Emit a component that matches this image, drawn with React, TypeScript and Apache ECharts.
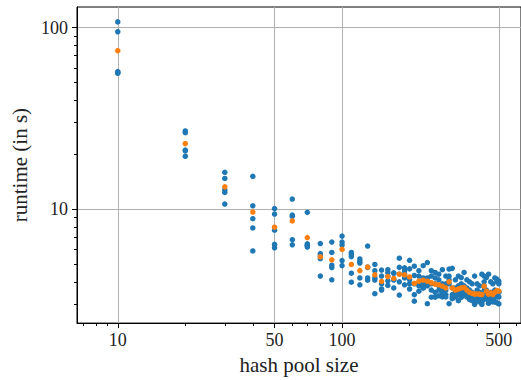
import React, { useEffect, useRef } from "react";
import * as echarts from "echarts";

const poolSizes = [10, 20, 30, 40, 50, 60, 70, 80, 90, 100, 110, 120, 130, 140, 150, 160, 170, 180, 190, 200, 210, 220, 230, 240, 250, 260, 270, 280, 290, 300, 310, 320, 330, 340, 350, 360, 370, 380, 390, 400, 410, 420, 430, 440, 450, 460, 470, 480, 490, 500];

const run1 = [107.4, 27.0, 16.0, 15.2, 10.1, 11.4, 9.63, 6.49, 6.61, 7.13, 5.8, 5.34, 6.29, 4.98, 4.64, 4.66, 4.48, 5.39, 4.77, 5.25, 4.87, 4.6, 4.9, 5.1, 4.6, 4.5, 4.4, 4.66, 4.3, 4.7, 4.74, 4.1, 4.3, 4.22, 4.5, 4.1, 4.0, 3.9, 4.3, 3.9, 3.8, 4.4, 4.3, 4.22, 4.4, 4.0, 3.9, 4.2, 4.13, 4.03];
const run2 = [94.8, 26.4, 14.8, 10.46, 9.43, 9.31, 6.47, 5.71, 5.8, 6.61, 5.65, 5.17, 4.81, 4.6, 4.3, 4.5, 4.45, 4.8, 4.6, 4.71, 4.33, 4.3, 4.2, 4.2, 4.3, 4.2, 4.1, 3.9, 3.9, 4.3, 3.7, 3.7, 3.8, 3.9, 3.8, 3.7, 3.6, 3.5, 3.4, 3.6, 3.5, 3.3, 4.0, 3.6, 3.4, 3.5, 3.5, 3.6, 4.0, 3.9];
const run3 = [57.3, 21.2, 12.8, 8.89, 7.69, 9.16, 6.35, 5.54, 4.93, 6.37, 5.5, 5.07, 4.8, 4.2, 3.9, 4.3, 4.1, 4.4, 4.4, 4.1, 3.9, 3.9, 3.9, 4.0, 3.9, 3.9, 3.8, 3.6, 3.6, 4.1, 3.4, 3.5, 3.6, 3.6, 3.5, 3.5, 3.4, 3.4, 3.3, 3.3, 3.4, 3.2, 3.8, 3.4, 3.2, 3.3, 3.3, 3.3, 3.4, 3.5];
const run4 = [56.6, 21.0, 12.4, 7.91, 6.42, 6.81, 6.34, 5.36, 4.79, 5.23, 4.46, 4.2, 4.2, 4.09, 3.65, 4.05, 4.1, 4.0, 4.2, 3.9, 3.4, 3.8, 3.7, 3.8, 3.6, 3.5, 3.6, 3.45, 3.4, 3.9, 3.3, 3.4, 3.4, 3.5, 3.4, 3.4, 3.3, 3.3, 3.1, 3.2, 3.3, 3.1, 3.6, 3.3, 3.05, 3.3, 3.2, 3.3, 3.3, 3.3];
const run5 = [56.0, 19.6, 10.7, 5.91, 6.15, 6.39, 6.21, 4.3, 4.1, 4.91, 3.98, 3.85, 4.08, 3.44, 3.6, 3.82, 3.7, 3.38, 3.85, 3.65, 3.13, 3.55, 3.7, 3.03, 3.29, 3.29, 3.35, 3.3, 3.3, 3.03, 3.23, 3.3, 3.15, 3.28, 3.4, 3.3, 3.2, 3.15, 3.0, 3.15, 3.1, 3.0, 3.2, 3.23, 3.05, 3.3, 3.1, 3.1, 3.07, 3.02];
const meanRuntime = [74.6, 23.0, 13.3, 9.67, 7.98, 8.64, 7.0, 5.48, 5.28, 6.03, 4.98, 4.61, 4.82, 4.37, 4.02, 4.27, 4.17, 4.4, 4.37, 4.25, 3.92, 4.03, 4.08, 4.03, 3.95, 3.88, 3.85, 3.78, 3.7, 4.0, 3.7, 3.6, 3.65, 3.7, 3.72, 3.6, 3.5, 3.45, 3.42, 3.43, 3.42, 3.4, 3.78, 3.55, 3.42, 3.48, 3.4, 3.5, 3.58, 3.55];

const xMajorTicks = [10, 50, 100, 500];
const xMinorTicks = [7, 8, 9, 20, 30, 40, 60, 70, 80, 90, 200, 300, 400, 600];
const yMajorTicks = [10, 100];
const yMinorTicks = [3, 4, 5, 6, 7, 8, 9, 20, 30, 40, 50, 60, 70, 80, 90];

const X_MIN = 6.58;
const X_MAX = 627.7;
const Y_MIN = 2.37;
const Y_MAX = 129.7;

const FONT = "'Liberation Serif', 'DejaVu Serif', serif";

export default function App() {
  const ref = useRef<HTMLDivElement>(null);
  useEffect(() => {
    if (!ref.current) return;
    const chart = echarts.init(ref.current, undefined, { renderer: "svg" });
    const runs = [run1, run2, run3, run4, run5];
    const blue: number[][] = [];
    runs.forEach((r) => r.forEach((v, i) => blue.push([poolSizes[i], v])));
    const orange = meanRuntime.map((v, i) => [poolSizes[i], v]);

    const gridColor = "#b0b0b0";
    const axisLine = { show: true, lineStyle: { color: "#000", width: 1 } };

    chart.setOption({
      animation: false,
      grid: {
        left: 77,
        top: 7,
        right: -2,
        bottom: 54,
        show: true,
        borderColor: "#000",
        borderWidth: 1,
        containLabel: false,
      },
      xAxis: [
        {
          type: "log",
          min: X_MIN,
          max: X_MAX,
          position: "bottom",
          axisLine,
          axisTick: { show: true, customValues: xMajorTicks, length: 5, lineStyle: { color: "#000", width: 1 } },
          axisLabel: {
            customValues: xMajorTicks,
            fontFamily: FONT,
            fontSize: 18,
            color: "#222",
            margin: 8,
            formatter: (v: number) => String(Math.round(v)),
          },
          splitLine: { show: true, lineStyle: { color: gridColor, width: 1 } },
          minorTick: { show: false },
          name: "hash pool size",
          nameLocation: "middle",
          nameGap: 28,
          nameTextStyle: { fontFamily: FONT, fontSize: 21, color: "#222" },
        },
        {
          type: "log",
          min: X_MIN,
          max: X_MAX,
          position: "bottom",
          axisLine: { show: false },
          axisTick: { show: true, customValues: xMinorTicks, length: 3, lineStyle: { color: "#000", width: 1 } },
          axisLabel: { show: false },
          splitLine: { show: false },
        },
      ],
      yAxis: [
        {
          type: "log",
          min: Y_MIN,
          max: Y_MAX,
          position: "left",
          axisLine,
          axisTick: { show: true, customValues: yMajorTicks, length: 5, lineStyle: { color: "#000", width: 1 } },
          axisLabel: {
            customValues: yMajorTicks,
            fontFamily: FONT,
            fontSize: 18,
            color: "#222",
            margin: 9,
            formatter: (v: number) => String(Math.round(v)),
          },
          splitLine: { show: true, lineStyle: { color: gridColor, width: 1 } },
          name: "runtime (in s)",
          nameLocation: "middle",
          nameGap: 40,
          nameRotate: 90,
          nameTextStyle: { fontFamily: FONT, fontSize: 21, color: "#222" },
        },
        {
          type: "log",
          min: Y_MIN,
          max: Y_MAX,
          position: "left",
          axisLine: { show: false },
          axisTick: { show: true, customValues: yMinorTicks, length: 3, lineStyle: { color: "#000", width: 1 } },
          axisLabel: { show: false },
          splitLine: { show: false },
        },
      ],
      series: [
        {
          type: "scatter",
          xAxisIndex: 0,
          yAxisIndex: 0,
          data: blue,
          symbol: "circle",
          symbolSize: 5.5,
          itemStyle: { color: "#1f77b4", opacity: 1 },
          z: 2,
        },
        {
          type: "scatter",
          xAxisIndex: 0,
          yAxisIndex: 0,
          data: orange,
          symbol: "circle",
          symbolSize: 5.5,
          itemStyle: { color: "#ff7f0e", opacity: 1 },
          z: 3,
        },
      ],
    });
    return () => chart.dispose();
  }, []);
  return (
    <div
      ref={ref}
      style={{ position: "absolute", left: 0, top: 0, width: 521, height: 380 }}
    />
  );
}
